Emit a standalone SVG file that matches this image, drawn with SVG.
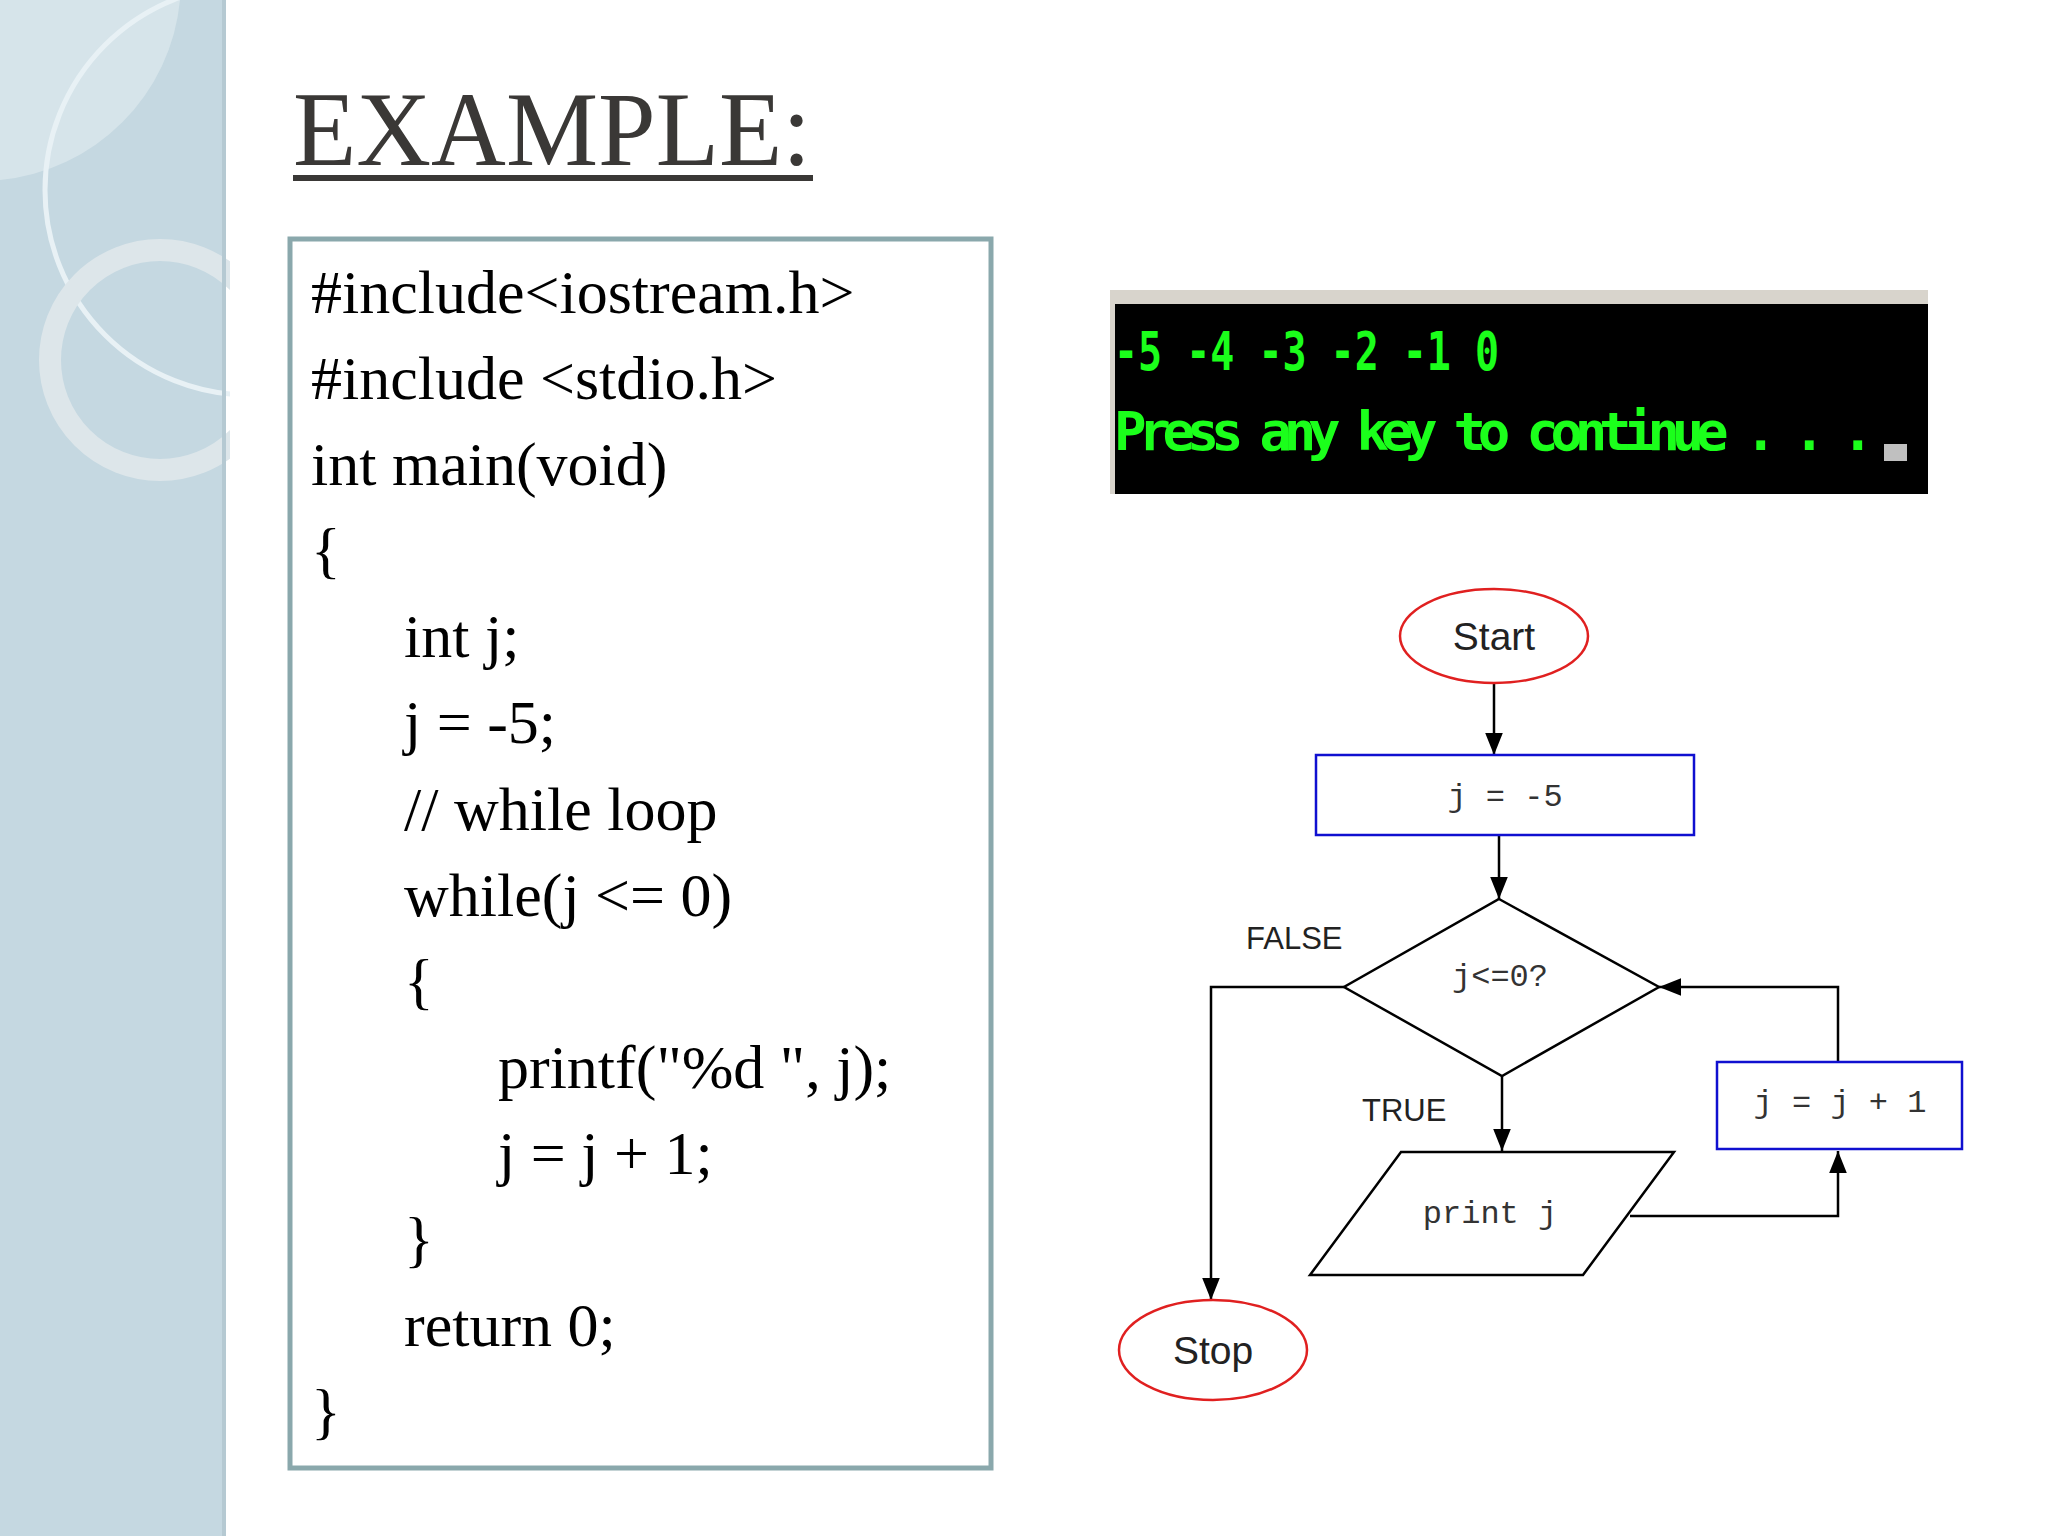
<svg xmlns="http://www.w3.org/2000/svg" width="2048" height="1536" viewBox="0 0 2048 1536">
<style>
.code{font-family:"Liberation Serif","Times New Roman",serif;font-size:62px;fill:#000}
.mono{font-family:"Liberation Mono","Courier New",monospace;font-size:32px;fill:#333}
.sans{font-family:"Liberation Sans",Arial,sans-serif;font-size:31px;fill:#222}
.big{font-size:39px}
.term{font-family:"DejaVu Sans Mono","Liberation Mono",monospace;font-weight:bold;font-size:54px;fill:#1bff1b}
.line{fill:none;stroke:#000;stroke-width:2.5}
.oval{fill:#fff;stroke:#e02020;stroke-width:2.5}
.box{fill:#fff;stroke:#1010d0;stroke-width:2.5}
</style>
<defs>
<marker id="a" viewBox="0 0 10 10" refX="10" refY="5" markerWidth="22" markerHeight="22" markerUnits="userSpaceOnUse" orient="auto"><path d="M0,1 L10,5 L0,9 z" fill="#000"/></marker>
<clipPath id="side"><rect x="0" y="0" width="230" height="1536"/></clipPath>
</defs>
<rect width="2048" height="1536" fill="#fff"/>
<g id="sidebar" clip-path="url(#side)">
<rect x="0" y="0" width="226" height="1536" fill="#c5d8e1"/>
<path d="M0,0 H180 A200,200 0 0 1 0,180 Z" fill="#d6e4ea"/>
<circle cx="250" cy="190" r="205" fill="none" stroke="#e8f1f5" stroke-width="5"/>
<circle cx="160" cy="360" r="110" fill="none" stroke="#dde6ea" stroke-width="22"/>
<rect x="222" y="0" width="4" height="1536" fill="#b5c9d2"/>
</g>
<g id="title">
<text x="293" y="165" font-family="Liberation Serif,serif" font-size="106" fill="#3a3836" textLength="518" lengthAdjust="spacingAndGlyphs">EXAMPLE:</text>
<rect x="293" y="175" width="520" height="6" fill="#3a3836"/>
</g>
<g id="code">
<rect x="290" y="239" width="701" height="1229" fill="#fff" stroke="#8aa8ac" stroke-width="5"/>
<text class="code" x="311" y="313">#include&lt;iostream.h&gt;</text>
<text class="code" x="311" y="399">#include &lt;stdio.h&gt;</text>
<text class="code" x="311" y="485">int main(void)</text>
<text class="code" x="311" y="571">{</text>
<text class="code" x="404" y="657">int j;</text>
<text class="code" x="404" y="743">j = -5;</text>
<text class="code" x="404" y="830">// while loop</text>
<text class="code" x="404" y="916">while(j &lt;= 0)</text>
<text class="code" x="404" y="1002">{</text>
<text class="code" x="498" y="1088">printf("%d ", j);</text>
<text class="code" x="498" y="1174">j = j + 1;</text>
<text class="code" x="404" y="1260">}</text>
<text class="code" x="404" y="1346">return 0;</text>
<text class="code" x="311" y="1432">}</text>
</g>
<g id="console">
<rect x="1110" y="290" width="818" height="204" fill="#000"/>
<rect x="1110" y="290" width="818" height="14" fill="#d8d4cc"/>
<rect x="1110" y="290" width="5" height="204" fill="#d8d4cc"/>
<text class="term" x="1114" y="370" textLength="385" lengthAdjust="spacingAndGlyphs">-5 -4 -3 -2 -1 0</text>
<text class="term" x="1114" y="450" textLength="760">Press any key to continue . . .</text>
<rect x="1884" y="444" width="23" height="17" fill="#c0c0c0"/>
</g>
<g id="connectors">
<path class="line" d="M1494,683 V755" marker-end="url(#a)"/>
<path class="line" d="M1499,835 V899" marker-end="url(#a)"/>
<path class="line" d="M1344,987 H1211 V1300" marker-end="url(#a)"/>
<path class="line" d="M1502,1076 V1151" marker-end="url(#a)"/>
<path class="line" d="M1630,1216 H1838 V1151" marker-end="url(#a)"/>
<path class="line" d="M1838,1062 V987 H1659" marker-end="url(#a)"/>
<text class="sans" x="1246" y="949">FALSE</text>
<text class="sans" x="1362" y="1121">TRUE</text>
</g>
<g id="start"><ellipse class="oval" cx="1494" cy="636" rx="94" ry="47"/><text class="sans big" x="1494" y="650" text-anchor="middle">Start</text></g>
<g id="init"><rect class="box" x="1316" y="755" width="378" height="80"/><text class="mono" x="1505" y="806" text-anchor="middle">j = -5</text></g>
<g id="cond"><polygon points="1499,899 1659,987 1502,1076 1344,987" fill="#fff" stroke="#000" stroke-width="2.5"/><text class="mono" x="1500" y="986" text-anchor="middle">j&lt;=0?</text></g>
<g id="print"><polygon points="1401,1152 1674,1152 1583,1275 1310,1275" fill="#fff" stroke="#000" stroke-width="2.5"/><text class="mono" x="1490" y="1223" text-anchor="middle">print j</text></g>
<g id="incr"><rect class="box" x="1717" y="1062" width="245" height="87"/><text class="mono" x="1840" y="1112" text-anchor="middle">j = j + 1</text></g>
<g id="stop"><ellipse class="oval" cx="1213" cy="1350" rx="94" ry="50"/><text class="sans big" x="1213" y="1364" text-anchor="middle">Stop</text></g>
</svg>
